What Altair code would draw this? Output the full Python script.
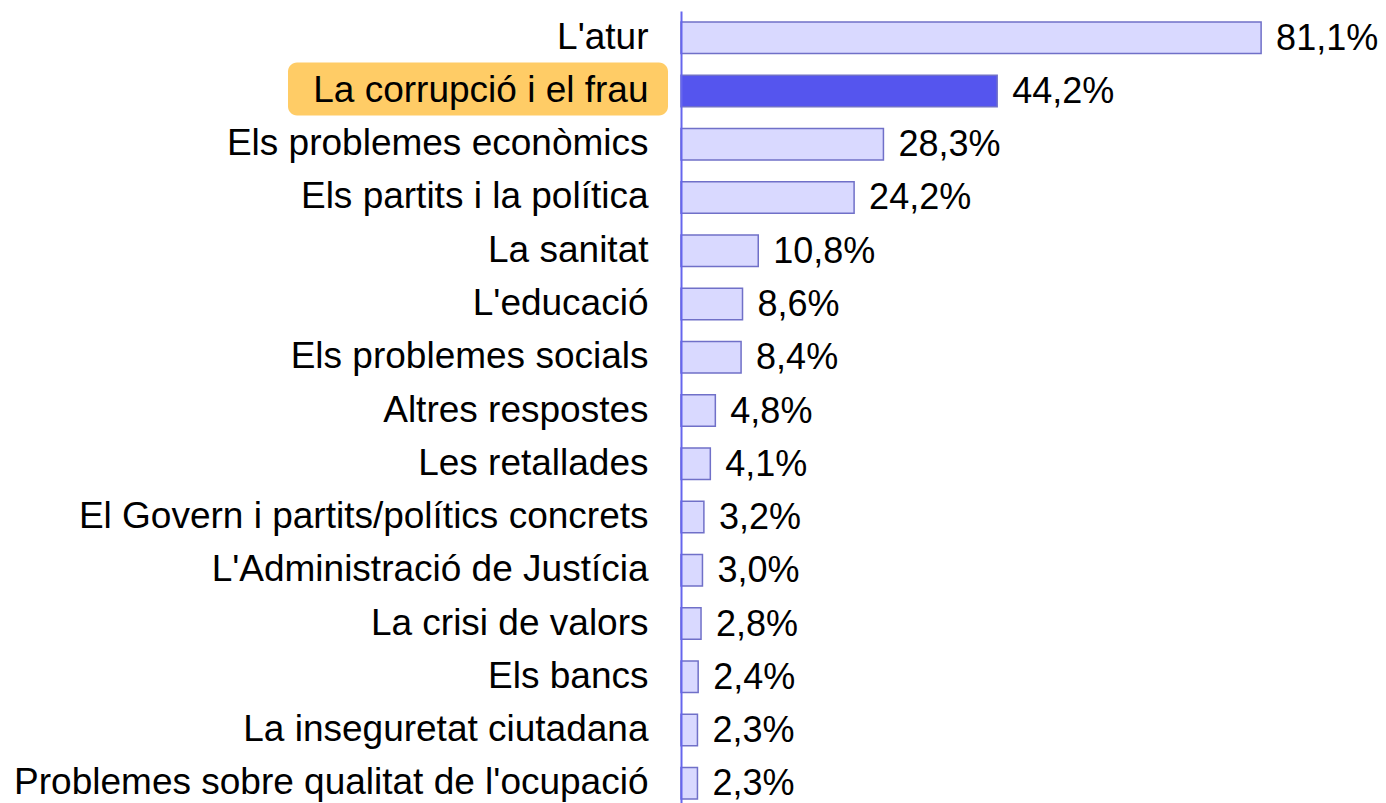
import altair as alt
import pandas as pd

categories = [
    "L'atur",
    "La corrupció i el frau",
    "Els problemes econòmics",
    "Els partits i la política",
    "La sanitat",
    "L'educació",
    "Els problemes socials",
    "Altres respostes",
    "Les retallades",
    "El Govern i partits/polítics concrets",
    "L'Administració de Justícia",
    "La crisi de valors",
    "Els bancs",
    "La inseguretat ciutadana",
    "Problemes sobre qualitat de l'ocupació",
]
values = [81.1, 44.2, 28.3, 24.2, 10.8, 8.6, 8.4, 4.8, 4.1, 3.2, 3.0, 2.8, 2.4, 2.3, 2.3]
highlight = "La corrupció i el frau"

df = pd.DataFrame({"cat": categories, "val": values})
df["label"] = [f"{v:.1f}".replace(".", ",") + "%" for v in values]
df["hl"] = [c == highlight for c in categories]

FONT = "Liberation Sans"

y = alt.Y(
    "cat:N",
    sort=categories,
    scale=alt.Scale(paddingInner=0.41, paddingOuter=0.2065, range=[-11, 788]),
    axis=alt.Axis(
        title=None,
        ticks=False,
        labelFontSize=37,
        labelFont=FONT,
        labelColor="#000000",
        labelPadding=33,
        labelLimit=800,
        domainColor="#6666ee",
        domainWidth=2,
        zindex=1,
    ),
)
x = alt.X("val:Q", scale=alt.Scale(domain=[0, 97.3]), axis=None)

base = alt.Chart(df)

box = base.transform_filter(alt.datum.hl).mark_rect(
    color="#ffcc66", cornerRadius=9, height=53, yOffset=-2
).encode(y=y, x=alt.value(-393), x2=alt.value(-13))

bars = base.mark_bar(stroke="#7070c8", strokeWidth=1.5).encode(
    y=y,
    x=x,
    color=alt.Color(
        "hl:N",
        scale=alt.Scale(domain=[False, True], range=["#d9d9ff", "#5555ee"]),
        legend=None,
    ),
)

text = base.mark_text(
    align="left", baseline="middle", dx=15, dy=1, fontSize=36, font=FONT, color="#000000"
).encode(y=y, x=x, text="label:N")

chart = (
    alt.layer(box, bars, text)
    .properties(
        width=696,
        height=781,
        autosize=alt.AutoSizeParams(type="none"),
        padding={"left": 673, "top": 14, "right": 1, "bottom": 0},
    )
    .configure_view(stroke=None)
)

chart.save("out.html", embed_options={"renderer": "svg", "actions": False})
